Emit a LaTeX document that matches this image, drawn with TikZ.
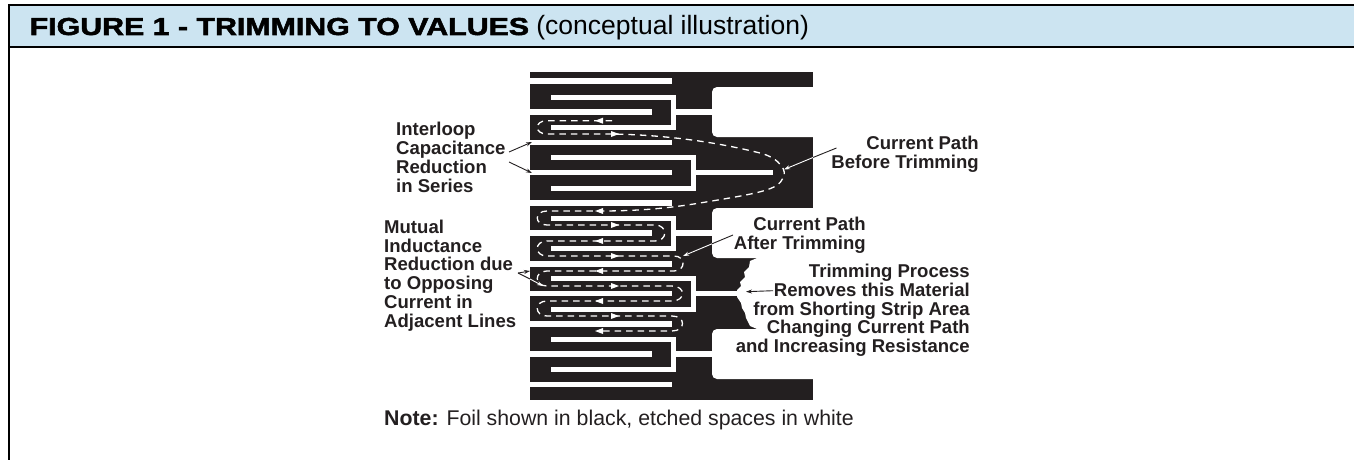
\documentclass[tikz,border=0pt]{standalone}
\usepackage{fontspec}
\usetikzlibrary{arrows.meta}
\setmainfont{Liberation Sans}
\newfontfamily\headfont[FakeStretch=1.238,FakeBold=2.2]{Liberation Sans Bold}
\definecolor{hdr}{HTML}{CCE4F1}
\definecolor{foil}{HTML}{231F20}
\begin{document}
\begin{tikzpicture}[x=1pt,y=-1pt,
  etch/.style={fill=white,draw=none},
  lab/.style={font=\fontsize{18.55}{18.7}\selectfont\bfseries,text=foil,inner sep=0pt},
  leader/.style={draw=foil,line width=0.9pt,-{Stealth[length=6pt,width=4pt]}},
  leaderw/.style={draw=white,line width=0.9pt,-{Stealth[length=6pt,width=4pt]}},
  cur/.style={draw=white,line width=1.3pt,dash pattern=on 6.5pt off 5pt}]
\useasboundingbox (0,0) rectangle (1354,460);
% header
\fill[hdr] (9,5) rectangle (1354,47);
\draw[line width=2pt] (1354,5) -- (9,5) -- (9,460);
\draw[line width=2pt] (9,47) -- (1354,47);
\node[anchor=base west,inner sep=0pt] (title) at (29.5,35) {\fontsize{24.5}{24.5}\selectfont{\headfont FIGURE 1 - TRIMMING TO VALUES}\fontsize{26.5}{26.5}\selectfont\ (conceptual illustration)};
% foil
\fill[foil] (530,72) rectangle (813,400);
\fill[etch,rounded corners=5pt] (712,87) rectangle (830,137);
\fill[etch,rounded corners=5pt] (712,208) rectangle (830,258);
\fill[etch,rounded corners=5pt] (712,329) rectangle (830,379);
\fill[etch] (830,250) -- (757,258) -- (750,261) -- (749,267) -- (744,272) -- (745,277) -- (740,282) -- (741,286) -- (737,290) -- (737,297) -- (741,303) -- (742,308) -- (745,313) -- (746,318) -- (750,326) -- (757,329) -- (830,335) -- cycle;
\fill[white] (813,72) rectangle (830,400);
% single lines
\foreach \a/\b in {78/83.5,139.5/145,200/205.5,261/266.5,321/326.5,381.5/387}
  \fill[etch] (530,\a) rectangle (672,\b);
% short combs: top y, connector to 712
\foreach \t in {94.7,215.5,336.7}{
  \fill[etch] (551,\t) rectangle (676,\t+5.4);
  \fill[etch] (551,\t+30) rectangle (676,\t+35.5);
  \fill[etch] (671,\t) rectangle (676,\t+35.5);
  \fill[etch] (530,\t+14.7) rectangle (652,\t+20.2);
  \fill[etch] (676,\t+14.7) rectangle (713,\t+20.2);
}
% long combs
\foreach \t/\e in {155/773,276/739}{
  \fill[etch] (551,\t) rectangle (696,\t+5.4);
  \fill[etch] (551,\t+30.5) rectangle (696,\t+36);
  \fill[etch] (690.7,\t) rectangle (696,\t+36);
  \fill[etch] (530,\t+14.8) rectangle (672,\t+20.3);
  \fill[etch] (696,\t+14.8) rectangle (\e,\t+20.3);
}
% current paths
\draw[cur] (612,120.7) -- (547,120.7) .. controls (534,120.7) and (534,134) .. (547,134)
  -- (612,134) .. controls (670,135) and (720,143) .. (760,153)
  .. controls (780,158) and (788,172) .. (783,178)
  .. controls (778,190) and (760,193) .. (700,203)
  .. controls (670,208) and (640,211) .. (600,211) -- (547,211)
  .. controls (534,211) and (534,225) .. (547,225) -- (655,225)
  .. controls (668,225) and (668,241) .. (655,241) -- (547,241)
  .. controls (534,241) and (534,256) .. (547,256) -- (674,256)
  .. controls (686,256) and (686,271) .. (674,271) -- (547,271)
  .. controls (534,271) and (534,286) .. (547,286) -- (672,286)
  .. controls (686,286) and (686,301) .. (672,301) -- (547,301)
  .. controls (534,301) and (534,316) .. (547,316) -- (672,316)
  .. controls (686,316) and (686,331) .. (672,331) -- (597,331);
% current arrowheads
\foreach \y in {120.7,211,241,271,301,331}
  \fill[white] (595,\y) -- (603,\y-3) -- (603,\y+3) -- cycle;
\foreach \y in {134,225,256,286,316}
  \fill[white] (619,\y) -- (611,\y-3) -- (611,\y+3) -- cycle;
% labels
\node[lab,anchor=base west,align=left] (inter) at (396,192) {Interloop\\Capacitance\\Reduction\\in Series};
\node[lab,anchor=base west,align=left] (mutual) at (384,327) {Mutual\\Inductance\\Reduction due\\to Opposing\\Current in\\Adjacent Lines};
\node[lab,anchor=base east,align=right] (before) at (979,168) {Current Path\\Before Trimming};
\node[lab,anchor=base east,align=right] (after) at (866,249) {Current Path\\After Trimming};
\node[lab,anchor=base east,align=right] (trim) at (970,352.5) {Trimming Process\\Removes this Material\\from Shorting Strip Area\\Changing Current Path\\and Increasing Resistance};
\node[anchor=base west,inner sep=0pt,font=\fontsize{21.3}{21.3}\selectfont,text=foil] (note) at (384,425) {\textbf{Note:} Foil shown in black, etched spaces in white};
% leaders
\coordinate (i0a) at (509,152); \coordinate (i1) at (532,142);
\coordinate (i0b) at (509,162); \coordinate (i2) at (532,173);
\coordinate (b0) at (836.5,148); \coordinate (b1) at (784,169.5); \coordinate (bx) at (813,157.5);
\coordinate (a0) at (733,235); \coordinate (a1) at (683,256); \coordinate (ax) at (712,243.8);
\coordinate (t0) at (773,290.7); \coordinate (t1) at (746,291.7);
\coordinate (m0) at (518,273); \coordinate (m1) at (530,271); \coordinate (m2) at (543,286); \coordinate (mx) at (530,279);
\foreach \s/\e in {i0a/i1,i0b/i2,t0/t1,m0/m1}
  \draw[leader] (\s) -- (\e);
\foreach \s/\x/\e in {b0/bx/b1,a0/ax/a1,m0/mx/m2}{
  \draw[draw=foil,line width=0.9pt] (\s) -- (\x);
  \draw[leaderw] (\x) -- (\e);
}
\end{tikzpicture}
\end{document}
